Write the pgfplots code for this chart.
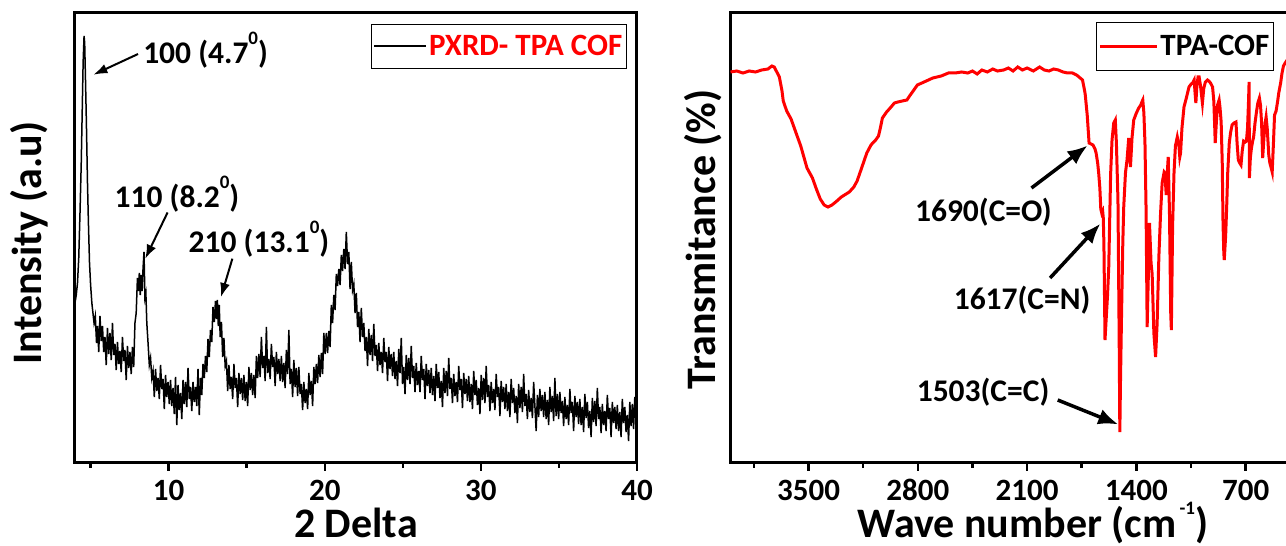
\documentclass[border=0pt]{standalone}
\usepackage{fontspec}
\setmainfont{Carlito}
\usepackage{pgfplots}
\pgfplotsset{compat=1.18}
\usetikzlibrary{arrows.meta}
\newcommand{\fs}[1]{\fontsize{#1}{#1}\selectfont\bfseries}
\newcommand{\supz}{\raisebox{19pt}{\fontsize{19}{19}\selectfont 0}}
\pgfplotsset{
  myaxis/.style={
    scale only axis, width=562pt, height=450pt,
    axis line style={line width=3pt},
    every tick/.style={black, line width=2.5pt},
    major tick length=8pt, minor tick length=5pt,
    tick align=outside, xtick pos=left,
    ytick=\empty,
    /pgf/number format/assume math mode=true,
    /pgf/number format/1000 sep={},
    ticklabel style={font=\fs{31}},
    xticklabel style={anchor=base, yshift=-29.5pt},
    label style={font=\fs{42}},
    ymin=0, ymax=450,
    clip=true,
    legend cell align=left,
  }
}
\begin{document}
\begin{tikzpicture}
\begin{axis}[myaxis, at={(75pt,83pt)}, anchor=south west,
  xmin=4, xmax=40, xtick={10,20,30,40}, minor xtick={5,15,25,35},
  xlabel={2 Delta}, ylabel={Intensity (a.u)},
  xlabel style={at={(axis description cs:0.5,-0.1645)}, anchor=base},
  ylabel style={at={(axis description cs:-0.081,0.489)}, anchor=center},
  legend style={at={(rel axis cs:0.982,0.976)}, anchor=north east, draw=black, line width=1pt, font=\fs{31}, inner xsep=2pt, inner ysep=9pt},
  legend image code/.code={\path (0pt,0pt) -- (3pt,0pt); \draw[#1] (3pt,0pt) -- (52pt,0pt);},
]
\addplot[black, line width=1.5pt] table {
4.00 160
4.08 168
4.16 180
4.24 205
4.32 250
4.40 300
4.46 350
4.52 400
4.58 427
4.62 420
4.67 385
4.73 340
4.80 280
4.86 240
4.93 200
5.00 178
5.08 160
5.15 150
5.22 140
5.30 147
5.38 120
5.45 137
5.52 111
5.60 147
5.68 122
5.76 137
5.84 111
5.92 126
6.00 98
6.08 135
6.16 109
6.24 130
6.32 103
6.40 140
6.48 108
6.56 119
6.64 93
6.72 121
6.80 99
6.88 112
6.96 91
7.04 126
7.12 102
7.20 113
7.28 83
7.36 117
7.44 95
7.52 111
7.60 89
7.68 116
7.76 96
7.84 140
7.92 150
8.00 185
8.06 172
8.12 190
8.18 168
8.24 188
8.30 172
8.36 195
8.42 211
8.48 165
8.54 170
8.60 140
8.68 120
8.76 98
8.84 105
8.92 85
9.00 92
9.08 66
9.16 94
9.24 72
9.32 85
9.40 64
9.48 98
9.56 74
9.64 84
9.72 54
9.80 88
9.88 66
9.96 81
10.04 59
10.12 83
10.20 57
10.28 75
10.36 49
10.44 86
10.52 38
10.60 78
10.68 53
10.76 70
10.84 44
10.92 83
11.00 59
11.08 81
11.16 56
11.24 95
11.32 64
11.40 76
11.48 52
11.56 81
11.64 61
11.72 76
11.80 57
11.88 94
11.96 48
12.04 85
12.12 68
12.20 99
12.28 85
12.36 107
12.44 91
12.52 124
12.60 106
12.68 133
12.76 121
12.84 156
12.92 141
13.00 162
13.06 144
13.12 163
13.18 137
13.24 158
13.30 126
13.38 141
13.46 106
13.54 125
13.62 97
13.70 102
13.78 72
13.86 98
13.94 74
14.02 86
14.10 64
14.18 99
14.26 75
14.34 85
14.42 56
14.50 90
14.58 69
14.66 85
14.74 63
14.82 88
14.90 62
14.98 81
15.06 57
15.14 96
15.22 73
15.30 90
15.38 68
15.46 88
15.54 65
15.62 107
15.70 85
15.78 109
15.86 86
15.94 126
16.02 95
16.10 107
16.18 82
16.26 136
16.34 90
16.42 104
16.50 84
16.58 119
16.66 96
16.74 106
16.82 77
16.90 111
16.98 89
17.06 104
17.14 82
17.22 107
17.30 81
17.38 100
17.46 75
17.54 113
17.62 89
17.70 133
17.78 79
17.86 94
17.94 66
18.02 103
18.10 76
18.18 95
18.26 67
18.34 96
18.42 69
18.50 79
18.58 53
18.66 81
18.74 60
18.82 74
18.90 54
18.98 90
19.06 68
19.14 82
19.22 57
19.30 96
19.38 79
19.46 99
19.54 80
19.62 108
19.70 86
19.78 110
19.86 89
19.94 130
20.02 109
20.10 130
20.18 110
20.26 132
20.34 116
20.42 158
20.50 140
20.58 168
20.66 153
20.74 189
20.82 177
20.90 194
20.98 178
21.06 208
21.14 192
21.22 214
21.30 194
21.38 231
21.46 199
21.54 211
21.62 174
21.70 201
21.78 173
21.86 179
21.94 150
22.02 170
22.10 136
22.18 151
22.26 121
22.34 155
22.42 126
22.50 140
22.58 112
22.66 126
22.74 97
22.82 134
22.90 108
22.98 128
23.06 102
23.14 139
23.22 107
23.30 118
23.38 92
23.46 120
23.54 98
23.62 111
23.70 90
23.78 125
23.86 101
23.94 111
24.02 82
24.10 116
24.18 94
24.26 109
24.34 87
24.42 111
24.50 84
24.58 102
24.66 77
24.74 114
24.82 90
24.90 125
24.98 79
25.06 96
25.14 69
25.22 108
25.30 83
25.38 105
25.46 79
25.54 117
25.62 85
25.70 97
25.78 71
25.86 100
25.94 78
26.02 92
26.10 71
26.18 107
26.26 83
26.34 94
26.42 64
26.50 99
26.58 77
26.66 93
26.74 70
26.82 95
26.90 68
26.98 87
27.06 62
27.14 99
27.22 75
27.30 91
27.38 65
27.46 82
27.54 56
27.62 95
27.70 70
27.78 92
27.86 67
27.94 105
28.02 74
28.10 85
28.18 60
28.26 89
28.34 67
28.42 81
28.50 61
28.58 97
28.66 73
28.74 84
28.82 55
28.90 90
28.98 69
29.06 84
29.14 62
29.22 87
29.30 61
29.38 79
29.46 54
29.54 92
29.62 68
29.70 83
29.78 58
29.86 75
29.94 49
30.02 88
30.10 63
30.18 85
30.26 60
30.34 97
30.42 66
30.50 78
30.58 52
30.66 81
30.74 60
30.82 74
30.90 53
30.98 89
31.06 66
31.14 76
31.22 47
31.30 82
31.38 61
31.46 76
31.54 54
31.62 79
31.70 52
31.78 71
31.86 46
31.94 84
32.02 60
32.10 75
32.18 50
32.26 67
32.34 40
32.42 79
32.50 55
32.58 76
32.66 51
32.74 89
32.82 57
32.90 69
32.98 44
33.06 73
33.14 51
33.22 65
33.30 45
33.38 81
33.46 57
33.54 32
33.62 68
33.70 46
33.78 74
33.86 52
33.94 68
34.02 46
34.10 71
34.18 44
34.26 63
34.34 38
34.42 76
34.50 51
34.58 67
34.66 42
34.74 85
34.82 47
34.90 69
34.98 44
35.06 71
35.14 50
35.22 62
35.30 37
35.38 66
35.46 44
35.54 58
35.62 38
35.70 74
35.78 50
35.86 61
35.94 32
36.02 67
36.10 46
36.18 61
36.26 39
36.34 64
36.42 38
36.50 56
36.58 31
36.66 69
36.74 45
36.82 61
36.90 35
36.98 52
37.06 26
37.14 65
37.22 41
37.30 62
37.38 37
37.46 75
37.54 44
37.62 56
37.70 30
37.78 59
37.86 38
37.94 52
38.02 32
38.10 68
38.18 44
38.26 55
38.34 26
38.42 61
38.50 40
38.58 56
38.66 34
38.74 58
38.82 32
38.90 51
38.98 26
39.06 64
39.14 40
39.22 56
39.30 31
39.38 48
39.46 22
39.54 61
39.62 37
39.70 59
39.78 34
39.86 66
39.94 41
40.00 50
};
\addlegendentry{\textcolor{red}{PXRD- TPA COF}}
\node[anchor=west, font=\fs{31.5}, inner sep=0pt] at (axis cs:8.36,413) {100 (4.7\supz)};
\node[anchor=west, font=\fs{31.5}, inner sep=0pt] at (axis cs:6.53,269) {110 (8.2\supz)};
\node[anchor=west, font=\fs{31.5}, inner sep=0pt] at (axis cs:11.27,223.4) {210 (13.1\supz)};
\draw[line width=2pt, -{Latex[length=14pt,width=10pt]}] (axis cs:8.04,409) -- (axis cs:5.18,388.3);
\draw[line width=2pt, -{Latex[length=14pt,width=10pt]}] (axis cs:9.93,250.5) -- (axis cs:8.50,204.3);
\draw[line width=2pt, -{Latex[length=14pt,width=10pt]}] (axis cs:14.08,204.3) -- (axis cs:13.35,166);
\end{axis}

\begin{axis}[myaxis, at={(730.5pt,83pt)}, anchor=south west,
  x dir=reverse, xmin=400, xmax=4000,
  xtick={3500,2800,2100,1400,700}, minor xtick={3850,3150,2450,1750,1050},
  xlabel={Wave number (cm\hspace{3pt}\raisebox{23pt}{\fontsize{19}{19}\selectfont -1})}, ylabel={Transmitance (\%)},
  xlabel style={at={(axis description cs:0.538,-0.1645)}, anchor=base},
  ylabel style={at={(axis description cs:-0.049,0.497)}, anchor=center},
  legend style={at={(rel axis cs:0.967,0.98)}, anchor=north east, draw=black, line width=1pt, font=\fs{31}, inner xsep=2pt, inner ysep=11pt},
  legend image code/.code={\path (0pt,0pt) -- (10pt,0pt); \draw[#1] (10pt,0pt) -- (57pt,0pt);},
]
\addplot[red, line width=3pt] table {
4000 391
3960 392
3920 390
3880 392
3840 391
3800 393
3760 394
3735 397
3720 396
3700 390
3687 386
3670 372
3662 362
3640 352
3612 344
3580 330
3550 317
3510 295
3475 285
3450 274
3425 264
3400 258
3376 256
3350 258
3326 261
3290 266
3239 271
3210 276
3189 282
3160 295
3127 310
3100 318
3089 320
3070 323
3052 327
3040 335
3027 345
3000 351
2977 355
2950 360
2928 361
2900 362
2870 363
2853 367
2830 372
2803 378
2760 381
2704 385
2650 387
2604 390
2560 390
2520 391
2480 390
2450 392
2420 389
2390 393
2355 391
2320 394
2290 392
2250 393
2220 395
2190 392
2160 396
2130 393
2100 395
2060 392
2020 396
1990 393
1960 392
1930 394
1900 393
1870 391
1840 390
1810 390
1783 388
1760 385
1745 383
1735 375
1728 369
1715 348
1703 320
1690 319
1678 318
1665 314
1658 310
1648 300
1641 289
1634 275
1628 254
1622 250
1616 252
1612 245
1608 219
1601 123
1595 140
1585 167
1577 196
1565 289
1556 323
1545 340
1535 343
1528 320
1518 263
1510 120
1506 31
1502 80
1495 149
1487 220
1481 256
1470 290
1460 303
1449 325
1438 296
1428 325
1417 343
1400 350
1385 355
1372 358
1365 361
1359 363
1352 350
1345 320
1338 254
1331 136
1323 190
1316 240
1306 200
1299 189
1288 130
1277 106
1267 140
1256 206
1245 250
1235 280
1222 291
1217 290
1209 268
1202 290
1196 306
1188 250
1180 150
1176 133
1168 237
1159 290
1150 317
1138 326
1128 318
1122 306
1117 310
1108 335
1095 356
1080 365
1063 376
1049 379
1040 380
1030 383
1024 370
1019 360
1012 378
1005 386
998 386
990 378
977 360
968 375
958 381
945 383
936 382
925 380
912 376
904 362
898 335
895 320
888 340
880 358
870 363
864 355
857 341
850 300
845 240
840 210
837 203
828 228
822 254
815 290
805 320
797 330
787 338
775 340
762 341
755 320
747 303
738 300
730 298
722 312
713 322
702 321
695 322
688 335
682 360
678 381
676 285
670 305
663 315
655 322
649 326
640 340
630 352
622 360
612 365
605 358
598 340
591 305
583 325
575 340
569 346
562 335
552 308
545 300
538 296
530 291
522 320
515 348
505 352
495 362
488 370
476 380
467 390
458 397
447 400
430 404
};
\addlegendentry{\textcolor{black}{TPA-COF}}
\node[anchor=west, font=\fs{31.5}, inner sep=0pt] at (axis cs:2819,250.5) {1690(C=O)};
\node[anchor=west, font=\fs{31.5}, inner sep=0pt] at (axis cs:2571,163.3) {1617(C=N)};
\node[anchor=west, font=\fs{31.5}, inner sep=0pt] at (axis cs:2808,71) {1503(C=C)};
\draw[line width=3.5pt, -{Latex[length=20pt,width=16pt]}] (axis cs:2072,275) -- (axis cs:1713,317.4);
\draw[line width=3.5pt, -{Latex[length=20pt,width=16pt]}] (axis cs:1953,185) -- (axis cs:1631,239.3);
\draw[line width=3.5pt, -{Latex[length=20pt,width=16pt]}] (axis cs:1904,63) -- (axis cs:1516,38.6);
\end{axis}
\pgfresetboundingbox
\path[use as bounding box] (0pt,0pt) rectangle (1286pt,546pt);
\end{tikzpicture}
\end{document}
